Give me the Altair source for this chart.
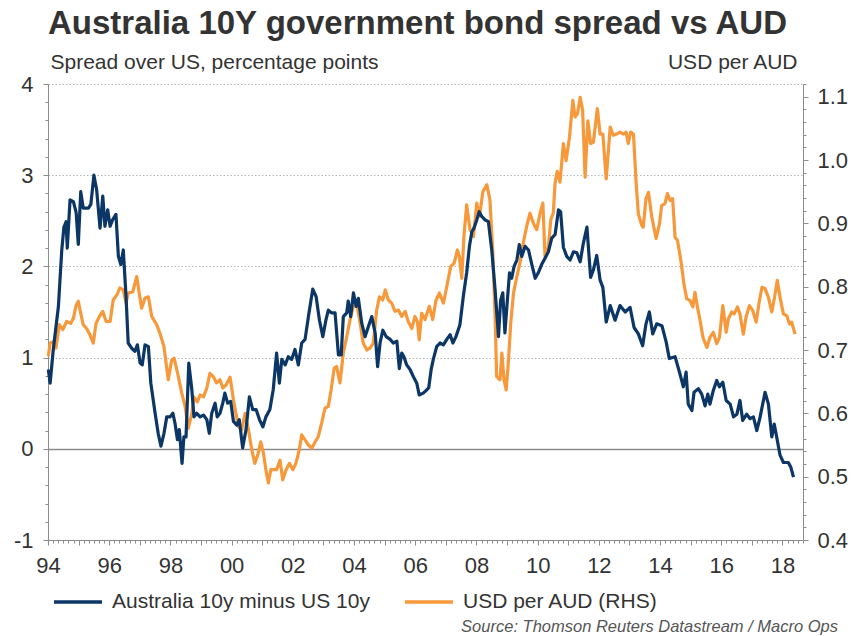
import altair as alt
import pandas as pd

TITLE = "Australia 10Y government bond spread vs AUD"
LEFT_TITLE = "Spread over US, percentage points"
RIGHT_TITLE = "USD per AUD"
SOURCE = "Source: Thomson Reuters Datastream / Macro Ops"
SERIES = ["Australia 10y minus US 10y", "USD per AUD (RHS)"]
COLORS = ["#0b3665", "#f7993b"]

spread_years = [
    1994.01, 1994.07, 1994.17, 1994.34, 1994.45, 1994.52, 1994.59, 1994.63, 1994.72, 1994.83,
    1994.92, 1994.99, 1995.07, 1995.15, 1995.32, 1995.40, 1995.50, 1995.59, 1995.70, 1995.79,
    1995.86, 1995.95, 1996.03, 1996.11, 1996.22, 1996.30, 1996.38, 1996.46, 1996.55, 1996.62,
    1996.74, 1996.84, 1996.92, 1997.01, 1997.08, 1997.17, 1997.28, 1997.36, 1997.50, 1997.60,
    1997.69, 1997.79, 1997.88, 1997.99, 1998.08, 1998.15, 1998.23, 1998.29, 1998.38, 1998.44,
    1998.51, 1998.60, 1998.70, 1998.77, 1998.86, 1998.97, 1999.08, 1999.19, 1999.27, 1999.35,
    1999.46, 1999.53, 1999.62, 1999.71, 1999.78, 1999.87, 1999.97, 2000.06, 2000.17, 2000.25,
    2000.36, 2000.47, 2000.58, 2000.69, 2000.80, 2000.91, 2001.02, 2001.12, 2001.25, 2001.36,
    2001.47, 2001.56, 2001.64, 2001.75, 2001.85, 2001.96, 2002.07, 2002.18, 2002.29, 2002.40,
    2002.51, 2002.65, 2002.76, 2002.87, 2002.98, 2003.08, 2003.16, 2003.27, 2003.38, 2003.49,
    2003.58, 2003.65, 2003.76, 2003.81, 2003.89, 2003.98, 2004.07, 2004.14, 2004.25, 2004.36,
    2004.47, 2004.58, 2004.69, 2004.77, 2004.85, 2004.94, 2005.05, 2005.18, 2005.28, 2005.40,
    2005.48, 2005.56, 2005.63, 2005.72, 2005.83, 2005.94, 2006.05, 2006.13, 2006.26, 2006.36,
    2006.44, 2006.52, 2006.59, 2006.70, 2006.81, 2006.92, 2007.03, 2007.14, 2007.23, 2007.33,
    2007.46, 2007.57, 2007.68, 2007.77, 2007.85, 2007.92, 2008.01, 2008.09, 2008.17, 2008.28,
    2008.39, 2008.50, 2008.61, 2008.72, 2008.79, 2008.86, 2008.93, 2009.01, 2009.08, 2009.15,
    2009.23, 2009.32, 2009.40, 2009.48, 2009.59, 2009.70, 2009.81, 2009.92, 2010.02, 2010.13,
    2010.24, 2010.35, 2010.46, 2010.57, 2010.68, 2010.75, 2010.84, 2010.95, 2011.06, 2011.17,
    2011.28, 2011.39, 2011.49, 2011.61, 2011.73, 2011.82, 2011.93, 2012.04, 2012.13, 2012.24,
    2012.37, 2012.53, 2012.69, 2012.86, 2013.02, 2013.15, 2013.29, 2013.43, 2013.54, 2013.65,
    2013.76, 2013.89, 2014.06, 2014.20, 2014.30, 2014.49, 2014.65, 2014.76, 2014.85, 2014.92,
    2015.04, 2015.11, 2015.25, 2015.36, 2015.47, 2015.56, 2015.63, 2015.74, 2015.85, 2015.94,
    2016.05, 2016.16, 2016.29, 2016.40, 2016.51, 2016.61, 2016.70, 2016.83, 2016.94, 2017.05,
    2017.16, 2017.27, 2017.43, 2017.54, 2017.65, 2017.73, 2017.81, 2017.92, 2018.03, 2018.19,
    2018.27, 2018.36,
]
spread = [
    0.87, 0.72, 1.08, 1.56, 2.18, 2.43, 2.49, 2.20, 2.73, 2.71,
    2.59, 2.24, 2.82, 2.64, 2.64, 2.68, 3.00, 2.84, 2.42, 2.77,
    2.44, 2.62, 2.44, 2.51, 2.57, 2.11, 2.02, 2.18, 1.67, 1.16,
    1.10, 1.07, 1.14, 0.94, 0.92, 1.14, 1.12, 0.72, 0.39, 0.17,
    0.03, 0.17, 0.35, 0.35, 0.39, 0.28, 0.10, 0.21, -0.16, 0.13,
    0.13, 0.94, 0.65, 0.35, 0.39, 0.35, 0.37, 0.32, 0.17, 0.39,
    0.50, 0.35, 0.39, 0.50, 0.61, 0.50, 0.52, 0.30, 0.26, 0.32,
    0.01, 0.21, 0.57, 0.43, 0.43, 0.32, 0.24, 0.35, 0.43, 0.65,
    1.05, 0.72, 0.98, 0.92, 1.01, 0.98, 1.09, 0.92, 1.16, 1.20,
    1.45, 1.75, 1.67, 1.41, 1.23, 1.41, 1.52, 1.49, 1.49, 1.03,
    1.03, 1.45, 1.49, 1.62, 1.45, 1.71, 1.56, 1.65, 1.38, 1.23,
    1.34, 1.45, 1.27, 0.90, 1.16, 1.30, 1.23, 1.20, 1.16, 1.18,
    0.88, 1.05, 1.01, 0.92, 0.87, 0.79, 0.72, 0.59, 0.61, 0.64,
    0.67, 0.87, 0.98, 1.12, 1.16, 1.14, 1.20, 1.25, 1.16, 1.23,
    1.36, 1.67, 1.93, 2.22, 2.38, 2.42, 2.51, 2.60, 2.55, 2.51,
    2.49, 2.18, 1.74, 1.23, 1.63, 1.71, 1.27, 1.63, 1.93, 1.87,
    2.00, 2.07, 2.24, 2.11, 2.22, 2.18, 2.02, 1.87, 1.93, 2.02,
    2.09, 2.16, 2.31, 2.35, 2.62, 2.60, 2.21, 2.11, 2.07, 2.16,
    2.15, 2.05, 2.25, 2.43, 1.88, 1.96, 2.12, 1.85, 1.77, 1.39,
    1.57, 1.41, 1.57, 1.50, 1.55, 1.33, 1.26, 1.13, 1.37, 1.50,
    1.26, 1.37, 1.35, 1.17, 0.99, 1.01, 0.82, 0.68, 0.84, 0.49,
    0.42, 0.62, 0.66, 0.60, 0.47, 0.60, 0.49, 0.64, 0.75, 0.68,
    0.73, 0.53, 0.49, 0.35, 0.38, 0.53, 0.31, 0.38, 0.33, 0.35,
    0.20, 0.35, 0.62, 0.49, 0.13, 0.27, 0.13, -0.07, -0.15, -0.15,
    -0.20, -0.31,
]

aud_years = [
    1994.01, 1994.07, 1994.17, 1994.26, 1994.37, 1994.48, 1994.61, 1994.74, 1994.83, 1994.92,
    1994.99, 1995.07, 1995.15, 1995.26, 1995.37, 1995.48, 1995.57, 1995.68, 1995.79, 1995.90,
    1996.03, 1996.13, 1996.25, 1996.35, 1996.46, 1996.55, 1996.62, 1996.77, 1996.90, 1996.98,
    1997.06, 1997.17, 1997.28, 1997.39, 1997.55, 1997.66, 1997.79, 1997.93, 1998.04, 1998.12,
    1998.26, 1998.37, 1998.48, 1998.58, 1998.70, 1998.77, 1998.88, 1998.97, 1999.08, 1999.19,
    1999.29, 1999.40, 1999.51, 1999.62, 1999.71, 1999.82, 1999.95, 2000.06, 2000.22, 2000.33,
    2000.44, 2000.55, 2000.66, 2000.76, 2000.87, 2000.95, 2001.04, 2001.12, 2001.20, 2001.28,
    2001.47, 2001.58, 2001.67, 2001.78, 2001.89, 2002.00, 2002.10, 2002.21, 2002.29, 2002.40,
    2002.51, 2002.62, 2002.73, 2002.83, 2002.94, 2003.05, 2003.16, 2003.25, 2003.35, 2003.43,
    2003.54, 2003.65, 2003.76, 2003.87, 2003.98, 2004.09, 2004.20, 2004.30, 2004.42, 2004.52,
    2004.63, 2004.74, 2004.83, 2004.94, 2005.02, 2005.12, 2005.23, 2005.34, 2005.45, 2005.56,
    2005.67, 2005.77, 2005.89, 2005.99, 2006.07, 2006.13, 2006.21, 2006.32, 2006.46, 2006.57,
    2006.68, 2006.79, 2006.92, 2007.03, 2007.16, 2007.27, 2007.38, 2007.44, 2007.52, 2007.59,
    2007.68, 2007.79, 2007.90, 2008.01, 2008.10, 2008.21, 2008.34, 2008.44, 2008.53, 2008.61,
    2008.66, 2008.77, 2008.83, 2008.90, 2008.97, 2009.04, 2009.12, 2009.21, 2009.32, 2009.42,
    2009.53, 2009.64, 2009.75, 2009.86, 2009.97, 2010.08, 2010.17, 2010.24, 2010.35, 2010.43,
    2010.51, 2010.57, 2010.64, 2010.73, 2010.84, 2010.93, 2011.04, 2011.15, 2011.22, 2011.30,
    2011.39, 2011.47, 2011.55, 2011.64, 2011.73, 2011.82, 2011.95, 2012.04, 2012.13, 2012.24,
    2012.37, 2012.47, 2012.58, 2012.69, 2012.80, 2012.89, 2012.96, 2013.04, 2013.13, 2013.22,
    2013.29, 2013.40, 2013.45, 2013.54, 2013.62, 2013.73, 2013.87, 2013.98, 2014.05, 2014.16,
    2014.24, 2014.33, 2014.41, 2014.49, 2014.57, 2014.68, 2014.78, 2014.87, 2014.98, 2015.07,
    2015.14, 2015.22, 2015.31, 2015.40, 2015.53, 2015.63, 2015.74, 2015.85, 2015.94, 2016.05,
    2016.16, 2016.23, 2016.34, 2016.42, 2016.53, 2016.61, 2016.72, 2016.81, 2016.92, 2017.03,
    2017.14, 2017.24, 2017.33, 2017.43, 2017.54, 2017.65, 2017.74, 2017.83, 2017.92, 2018.03,
    2018.14, 2018.23, 2018.30, 2018.41,
]
aud = [
    0.690, 0.711, 0.713, 0.703, 0.740, 0.732, 0.745, 0.742, 0.750, 0.771,
    0.777, 0.758, 0.740, 0.734, 0.724, 0.711, 0.742, 0.753, 0.761, 0.745,
    0.745, 0.779, 0.787, 0.798, 0.795, 0.774, 0.790, 0.792, 0.816, 0.790,
    0.766, 0.782, 0.784, 0.753, 0.740, 0.726, 0.705, 0.653, 0.684, 0.687,
    0.658, 0.632, 0.611, 0.576, 0.600, 0.626, 0.618, 0.629, 0.626, 0.640,
    0.663, 0.658, 0.648, 0.653, 0.640, 0.645, 0.657, 0.621, 0.579, 0.574,
    0.600, 0.574, 0.542, 0.521, 0.537, 0.555, 0.537, 0.511, 0.490, 0.511,
    0.511, 0.526, 0.495, 0.511, 0.521, 0.511, 0.521, 0.542, 0.566, 0.558,
    0.550, 0.545, 0.555, 0.563, 0.584, 0.608, 0.611, 0.637, 0.671, 0.674,
    0.648, 0.695, 0.721, 0.748, 0.769, 0.774, 0.742, 0.711, 0.700, 0.703,
    0.711, 0.763, 0.784, 0.779, 0.795, 0.779, 0.774, 0.761, 0.763, 0.753,
    0.761, 0.745, 0.734, 0.753, 0.745, 0.716, 0.758, 0.748, 0.769, 0.748,
    0.779, 0.790, 0.774, 0.800, 0.832, 0.837, 0.858, 0.848, 0.813, 0.879,
    0.929, 0.890, 0.879, 0.932, 0.911, 0.950, 0.961, 0.937, 0.858, 0.753,
    0.658, 0.653, 0.695, 0.653, 0.637, 0.679, 0.742, 0.790, 0.816, 0.837,
    0.869, 0.895, 0.916, 0.900, 0.890, 0.916, 0.932, 0.848, 0.863, 0.906,
    0.916, 0.964, 0.982, 0.965, 1.026, 0.999, 1.036, 1.094, 1.068, 1.073,
    1.099, 1.078, 0.973, 1.062, 1.026, 1.028, 1.081, 1.041, 1.041, 0.970,
    1.052, 1.039, 1.041, 1.044, 1.041, 1.044, 1.026, 1.044, 1.041, 0.962,
    0.915, 0.897, 0.894, 0.939, 0.949, 0.910, 0.876, 0.899, 0.928, 0.931,
    0.947, 0.936, 0.939, 0.878, 0.873, 0.841, 0.804, 0.781, 0.778, 0.768,
    0.791, 0.768, 0.746, 0.720, 0.704, 0.720, 0.728, 0.710, 0.720, 0.770,
    0.728, 0.749, 0.760, 0.757, 0.768, 0.757, 0.725, 0.752, 0.770, 0.762,
    0.744, 0.776, 0.799, 0.797, 0.783, 0.760, 0.783, 0.810, 0.783, 0.757,
    0.754, 0.741, 0.744, 0.725,
]

X_DOMAIN = [1994, 2018.67]
LEFT_DOMAIN = [-1, 4]
RIGHT_DOMAIN = [0.4, 1.12]

x_ticks = [round(1994 + k / 6, 4) for k in range(0, 149)]
left_ticks = [i / 5 for i in range(-5, 21)]
right_ticks = [round(0.4 + k * 0.02, 2) for k in range(0, 37)]

FONT = "Liberation Sans"
TXT = "#333333"
AX = "#8c8c8c"

df_spread = pd.DataFrame({"year": spread_years, "value": spread, "series": SERIES[0]})
df_aud = pd.DataFrame({"year": aud_years, "value": aud, "series": SERIES[1]})

is_year = "abs(datum.value - round(datum.value)) < 0.01"
x_axis = alt.Axis(
    values=x_ticks,
    labelExpr=f"{is_year} && round(datum.value) % 2 == 0 ? substring(toString(round(datum.value)), 2) : ''",
    grid=False,
    domainColor=AX,
    tickColor=AX,
    tickSize={"condition": {"test": is_year, "value": 5}, "value": 3},
    labelFontSize=22,
    labelFont=FONT,
    labelColor=TXT,
    labelPadding=10,
    labelFlush=False,
    labelOverlap=False,
    title=None,
)

is_int = "abs(datum.value - round(datum.value)) < 0.001"
left_axis = alt.Axis(
    values=left_ticks,
    labelExpr=f"{is_int} ? toString(round(datum.value)) : ''",
    grid=True,
    gridOpacity={"condition": {"test": f"{is_int} && datum.value > -0.5", "value": 1}, "value": 0},
    gridDash={"condition": {"test": "abs(datum.value) < 0.001", "value": []}, "value": [1.5, 2]},
    gridColor={"condition": {"test": "abs(datum.value) < 0.001", "value": "#8a8a8a"}, "value": "#b5b5b5"},
    gridWidth={"condition": {"test": "abs(datum.value) < 0.001", "value": 1.5}, "value": 1},
    domainColor=AX,
    tickColor=AX,
    tickSize={"condition": {"test": is_int, "value": 5}, "value": 3},
    labelFontSize=22,
    labelFont=FONT,
    labelColor=TXT,
    labelPadding=10,
    labelFlush=False,
    labelOverlap=False,
    title=LEFT_TITLE,
    titleAngle=0,
    titleAlign="left",
    titleBaseline="alphabetic",
    titleX=2,
    titleY=-16,
    titleFont=FONT,
    titleFontSize=21,
    titleFontWeight="normal",
    titleColor=TXT,
)

is_tenth = "abs(datum.value * 10 - round(datum.value * 10)) < 0.001"
right_axis = alt.Axis(
    orient="right",
    values=right_ticks,
    labelExpr=f"{is_tenth} ? format(datum.value, '.1f') : ''",
    grid=False,
    domainColor=AX,
    tickColor=AX,
    tickSize={"condition": {"test": is_tenth, "value": 5}, "value": 3},
    labelFontSize=22,
    labelFont=FONT,
    labelColor=TXT,
    labelPadding=9,
    labelFlush=False,
    labelOverlap=False,
    title=RIGHT_TITLE,
    titleAngle=0,
    titleAlign="right",
    titleBaseline="alphabetic",
    titleX=-6,
    titleY=-16,
    titleFont=FONT,
    titleFontSize=21,
    titleFontWeight="normal",
    titleColor=TXT,
)

color = alt.Color(
    "series:N",
    scale=alt.Scale(domain=SERIES, range=COLORS),
    legend=alt.Legend(
        orient="none",
        legendX=4,
        legendY=492,
        direction="horizontal",
        title=None,
        symbolType="stroke",
        symbolSize=2304,
        symbolStrokeWidth=3.5,
        labelFont=FONT,
        labelFontSize=21,
        labelColor=TXT,
        labelOffset=8,
        columnPadding=28,
        labelLimit=400,
    ),
)

x_enc = alt.X("year:Q", scale=alt.Scale(domain=X_DOMAIN, nice=False, zero=False), axis=x_axis)

spread_line = alt.Chart(df_spread).mark_line(strokeWidth=3.2, strokeJoin="round").encode(
    x=x_enc,
    y=alt.Y("value:Q", scale=alt.Scale(domain=LEFT_DOMAIN, nice=False, zero=False), axis=left_axis),
    color=color,
)

aud_line = alt.Chart(df_aud).mark_line(strokeWidth=3.2, strokeJoin="round").encode(
    x=x_enc,
    y=alt.Y("value:Q", scale=alt.Scale(domain=RIGHT_DOMAIN, nice=False, zero=False), axis=right_axis),
    color=color,
)

source = alt.Chart(alt.Data(values=[{"t": SOURCE}])).mark_text(
    align="right", baseline="alphabetic", font=FONT, fontSize=16.5, fontStyle="italic", color="#555555"
).encode(text="t:N", x=alt.value(790), y=alt.value(548))

chart = (
    alt.layer(aud_line, spread_line, source)
    .resolve_scale(y="independent")
    .properties(
        width=755,
        height=456,
        autosize=alt.AutoSizeParams(type="none"),
        padding={"left": 48, "top": 84, "right": 49, "bottom": 96},
        background="white",
        title=alt.TitleParams(
            text=TITLE,
            anchor="start",
            frame="group",
            font=FONT,
            fontSize=33,
            fontWeight="bold",
            color=TXT,
            offset=10,
        ),
    )
    .configure_view(stroke=None)
)

chart.save("out.html", embed_options={"renderer": "svg", "actions": False})
